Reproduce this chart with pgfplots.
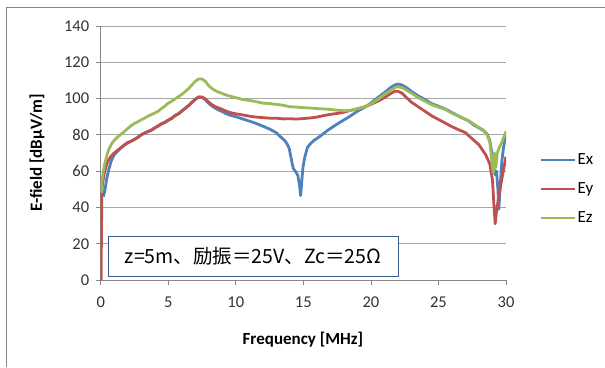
\documentclass[border=0pt]{standalone}
\usepackage{fontspec}
\setmainfont{Carlito}
\newfontfamily\cjk{Noto Sans CJK JP}
\usepackage{pgfplots}
\pgfplotsset{compat=1.18}
\definecolor{cEx}{HTML}{4F81BD}
\definecolor{cEy}{HTML}{C0504D}
\definecolor{cEz}{HTML}{9BBB59}
\definecolor{gridc}{HTML}{A6A6A6}
\definecolor{framec}{HTML}{868686}
\definecolor{boxc}{HTML}{3B5E91}
\begin{document}
\begin{tikzpicture}
\path[use as bounding box] (0,0) rectangle (605pt,-367pt);
\draw[color=framec, line width=0.8pt] (6pt,-367pt) -- (6pt,-7pt) -- (605pt,-7pt);
\begin{axis}[
  at={(100.7pt,-280pt)}, anchor=south west,
  scale only axis, width=405.3pt, height=254pt,
  xmin=0, xmax=30, ymin=0, ymax=140,
  xtick={0,5,...,30}, ytick={0,20,...,140},
  axis x line*=bottom, axis y line*=left,
  axis line style={color=framec, line width=0.8pt},
  tick align=outside, major tick length=5pt,
  tick style={color=framec, line width=0.8pt},
  ymajorgrids, grid style={color=gridc, line width=0.8pt},
  /pgf/number format/assume math mode=true,
  tick label style={font=\fontsize{16.5}{18}\selectfont, color=black!80},
  xticklabel style={yshift=-8pt},
  yticklabel style={xshift=-3pt},
  xlabel={\bfseries Frequency [MHz]},
  ylabel={\bfseries E-field [dBμV/m]},
  label style={font=\fontsize{17}{18}\selectfont},
  xlabel style={at={(axis description cs:0.499,-0.236)}, anchor=center},
  ylabel style={at={(axis description cs:-0.157,0.5)}, anchor=center},
  legend style={at={(axis description cs:1.083,0.358)}, anchor=west, draw=none, fill=none,
    font=\fontsize{17}{17}\selectfont, inner sep=0pt, row sep=12pt,
    nodes={inner sep=1pt, text height=12pt, text depth=3pt}},
  legend cell align=left,
  legend image code/.code={\draw[#1] (0pt,0pt) -- (34pt,0pt);},
  every axis plot/.append style={line width=2.8pt, line join=round},
]
\addplot[cEx] coordinates {
(0.2,46) (0.3,49) (0.45,56) (0.6,61) (0.8,66) (1.0,69) (1.25,71) (1.5,72.8)
(1.75,74.3) (2.0,75.5) (2.25,76.5) (2.5,77.5) (2.75,78.7) (3.0,80) (3.25,81) (3.5,81.8)
(3.75,82.7) (4.0,83.9) (4.25,85) (4.5,86.2) (4.75,87) (5.0,88.2) (5.25,89.2) (5.5,90.7)
(5.75,91.7) (6.0,93.2) (6.25,94.7) (6.5,96.2) (6.75,98) (7.0,99.7) (7.25,100.9) (7.5,100.7)
(7.75,99.3) (8.0,97.3) (8.25,95.8) (8.5,94.6) (8.75,93.6) (9.0,92.8) (9.25,91.8) (9.5,91)
(9.75,90.5) (10.0,90) (10.5,88.8) (11.0,87.6) (11.5,86.3) (12.0,84.8) (12.5,83.2) (13.0,81.2)
(13.3,79) (13.6,77) (13.8,75) (13.95,72.5) (14.1,67) (14.25,61.5) (14.45,59.5) (14.6,57.5)
(14.72,52) (14.8,46.5) (14.88,54) (14.97,62) (15.1,67.5) (15.3,73) (15.5,75) (15.8,77)
(16.2,79) (16.8,82.5) (17.3,85) (17.8,87.3) (18.4,90) (19.0,93) (19.5,95) (20.0,97.5)
(20.5,100.5) (21.0,103.3) (21.5,106.3) (21.8,107.6) (22.0,108) (22.3,107.5) (22.6,106.2) (23.0,104)
(23.5,101.5) (24.0,99.5) (24.5,97.2) (25.0,95.8) (25.5,94.3) (26.0,92.3) (26.5,90.3) (27.0,88.5)
(27.3,87.3) (27.6,85.5) (28.0,83.8) (28.3,82.5) (28.6,80.5) (28.8,77) (29.0,68) (29.1,62)
(29.2,58) (29.3,60) (29.4,50) (29.47,39) (29.6,55) (29.7,66) (29.8,72) (29.9,77) (30.0,81)
};
\addlegendentry{Ex}
\addplot[cEy] coordinates {
(0.03,0) (0.05,20) (0.08,45) (0.12,52) (0.2,56) (0.3,60) (0.45,64) (0.6,66.5) (0.8,68.5)
(1.0,70) (1.25,71.5) (1.5,73) (1.75,74.5) (2.0,75.8) (2.25,76.5) (2.5,77.5) (2.75,78.5)
(3.0,80) (3.25,81) (3.5,81.8) (3.75,82.5) (4.0,83.8) (4.25,84.8) (4.5,86) (4.75,86.8)
(5.0,88) (5.25,89) (5.5,90.5) (5.75,91.5) (6.0,93) (6.25,94.5) (6.5,96) (6.75,97.8)
(7.0,99.5) (7.25,100.8) (7.5,100.8) (7.75,99.8) (8.0,98) (8.25,96.5) (8.5,95.5) (8.75,94.8)
(9.0,94) (9.25,93.2) (9.5,92.5) (9.75,92) (10.0,91.6) (10.5,91) (11.0,90.3) (11.5,89.8)
(12.0,89.5) (12.5,89.2) (13.0,89.2) (13.5,88.8) (14.0,88.9) (14.5,88.7) (15.0,89) (15.5,89.3)
(16.0,89.8) (16.5,90.6) (17.0,91.3) (17.5,91.8) (18.0,92.5) (18.5,93.5) (19.0,94.4) (19.5,95.4)
(20.0,96.8) (20.5,98.5) (21.0,100.5) (21.5,103) (21.8,104) (22.0,104) (22.3,103) (22.6,100.8)
(23.0,98) (23.5,95.5) (24.0,93) (24.5,90.5) (25.0,88.5) (25.5,86.5) (26.0,84.5) (26.5,82.8)
(27.0,81.2) (27.5,77.8) (28.0,74.5) (28.5,69) (28.8,64) (29.0,55) (29.1,42) (29.2,31)
(29.3,38) (29.5,48) (29.7,56) (29.85,62) (30.0,68)
};
\addlegendentry{Ey}
\addplot[cEz] coordinates {
(0.05,48) (0.1,55) (0.2,60) (0.3,64) (0.45,68.5) (0.6,72) (0.8,75) (1.0,77) (1.25,78.8)
(1.5,80.3) (1.75,81.8) (2.0,83.5) (2.25,85) (2.5,86.3) (2.75,87.2) (3.0,88.3) (3.25,89.2)
(3.5,90.3) (3.75,91.2) (4.0,92) (4.25,93) (4.5,94.5) (4.75,95.8) (5.0,97.5) (5.25,98.5)
(5.5,99.8) (5.75,101) (6.0,102.3) (6.25,103.8) (6.5,105.5) (6.75,107.5) (7.0,109.5) (7.25,110.8)
(7.5,110.8) (7.75,109.5) (8.0,107) (8.25,105.5) (8.5,104.3) (8.75,103.5) (9.0,102.8) (9.25,102)
(9.5,101.5) (9.75,101) (10.0,100.5) (10.5,99.5) (11.0,99) (11.5,98.3) (12.0,97.5) (12.5,97.2)
(13.0,96.8) (13.5,96.3) (14.0,95.5) (14.5,95.3) (15.0,95) (15.5,94.8) (16.0,94.5) (16.5,94.3)
(17.0,94) (17.5,93.6) (18.0,93.3) (18.5,93.5) (19.0,94.3) (19.5,95.3) (20.0,97) (20.5,99.5)
(21.0,102.3) (21.5,104.7) (21.8,106.2) (22.0,106.5) (22.3,106) (22.6,104.8) (23.0,103) (23.5,100.5)
(24.0,98.6) (24.5,96.6) (25.0,95.3) (25.5,94) (26.0,92) (26.5,90.2) (27.0,88.5) (27.3,87.5)
(27.6,86) (28.0,84) (28.3,82.8) (28.6,80) (28.8,76) (28.95,66) (29.05,59) (29.15,70)
(29.25,62) (29.35,70) (29.5,73) (29.7,76) (29.85,79) (30.0,82)
};
\addlegendentry{Ez}
\node[draw=boxc, line width=1pt, fill=white, minimum width=290pt, minimum height=40pt,
  inner sep=0pt, font=\cjk\fontsize{19.5}{20}\selectfont]
  at (axis description cs:0.376,0.0945) {z=5m、励振＝25V、Zc＝25Ω};
\end{axis}
\end{tikzpicture}
\end{document}
